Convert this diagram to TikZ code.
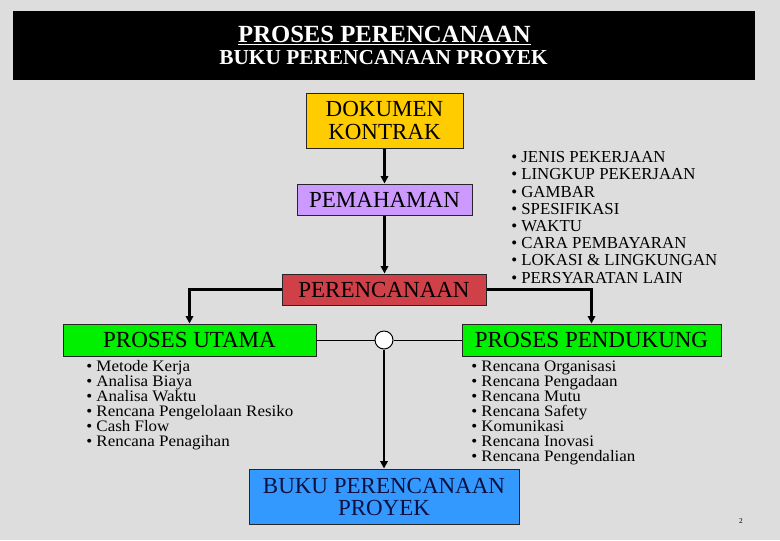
\documentclass[tikz,border=0pt]{standalone}
\usepackage{fontspec}
\setmainfont{Liberation Serif}
\newfontfamily\listfont[FakeStretch=1.06]{Liberation Serif}
\usetikzlibrary{arrows.meta}
\definecolor{bggray}{RGB}{221,221,221}
\definecolor{yellowc}{RGB}{255,204,0}
\definecolor{purplec}{RGB}{204,153,255}
\definecolor{redc}{RGB}{208,64,72}
\definecolor{greenc}{RGB}{0,240,0}
\definecolor{bluec}{RGB}{51,153,255}
\definecolor{navyc}{RGB}{16,16,64}
\begin{document}
\begin{tikzpicture}[x=0.75pt,y=-0.75pt,
  box/.style={draw=black!85,line width=0.75pt,inner sep=0pt,align=center,
    font=\fontsize{17.25pt}{17pt}\selectfont},
  conn/.style={line width=1.6pt,-{Triangle[length=5.5pt,width=5.5pt]}},
  thinline/.style={line width=0.75pt},
  itemA/.style={anchor=base west,inner sep=0pt,font=\listfont\fontsize{12pt}{12pt}\selectfont},
  itemB/.style={anchor=base west,inner sep=0pt,font=\fontsize{12.6pt}{12pt}\selectfont}]
\useasboundingbox[fill=bggray] (0,0) rectangle (780,540);
% header
\node[fill=black,inner sep=0pt,minimum width=556.5pt,minimum height=51.75pt] (head) at (384,45.5) {};
\node[text=white,anchor=base,inner sep=0pt,font=\bfseries\fontsize{18.5pt}{19pt}\selectfont] (t1) at (384.5,42.3) {PROSES PERENCANAAN};
\draw[white,line width=1pt] ([yshift=-1.6pt]t1.base west) -- ([yshift=-1.6pt]t1.base east);
\node[text=white,anchor=base,inner sep=0pt,font=\bfseries\fontsize{16pt}{17pt}\selectfont] (t2) at (383.5,64.3) {BUKU PERENCANAAN PROYEK};
% boxes
\node[box,fill=yellowc,minimum width=117.75pt,minimum height=41.25pt] (dok) at (384.5,120.5) {DOKUMEN\\KONTRAK};
\node[box,fill=purplec,minimum width=131.25pt,minimum height=23.25pt] (pem) at (384.5,199.5) {PEMAHAMAN};
\node[box,fill=redc,minimum width=153pt,minimum height=23.25pt] (per) at (384,289.5) {PERENCANAAN};
\node[box,fill=greenc,minimum width=189.75pt,minimum height=24pt] (utama) at (189.5,340) {PROSES UTAMA};
\node[box,fill=greenc,minimum width=194.25pt,minimum height=24pt] (pend) at (591.5,340) {PROSES PENDUKUNG};
\node[box,fill=bluec,text=navyc,minimum width=202.5pt,minimum height=41.25pt,
  font=\fontsize{17.25pt}{16.5pt}\selectfont] (buku) at (384,496.5) {BUKU PERENCANAAN\\PROYEK};
\node[circle,draw=black,fill=white,line width=0.75pt,minimum size=13.5pt,inner sep=0pt] (circ) at (384,340) {};
% connectors
\draw[conn] (dok.south) -- (pem.north);
\draw[conn] (pem.south) -- (pem.south |- per.north);
\draw[conn] (per.west) -| (utama.north);
\draw[conn] (per.east) -| (pend.north);
\draw[thinline] (utama.east) -- (circ.west);
\draw[thinline] (circ.east) -- (pend.west);
\draw[conn] (circ.south) -- (buku.north);
% lists
\foreach \t [count=\i] in {JENIS PEKERJAAN, LINGKUP PEKERJAAN, GAMBAR, SPESIFIKASI, WAKTU, CARA PEMBAYARAN, LOKASI \& LINGKUNGAN, PERSYARATAN LAIN}
  \node[itemB] (r\i) at (511,162.7+17.2*\i-17.2) {• \t};
\foreach \t [count=\i] in {Metode Kerja, Analisa Biaya, Analisa Waktu, Rencana Pengelolaan Resiko, Cash Flow, Rencana Penagihan}
  \node[itemA] (l\i) at (86,371.7+15*\i-15) {• \t};
\foreach \t [count=\i] in {Rencana Organisasi, Rencana Pengadaan, Rencana Mutu, Rencana Safety, Komunikasi, Rencana Inovasi, Rencana Pengendalian}
  \node[itemA] (s\i) at (471,371.7+14.9*\i-14.9) {• \t};
\node[anchor=base,inner sep=0pt,font=\fontsize{5.5pt}{6pt}\selectfont] (pg) at (741,523.5) {2};
\end{tikzpicture}
\end{document}
